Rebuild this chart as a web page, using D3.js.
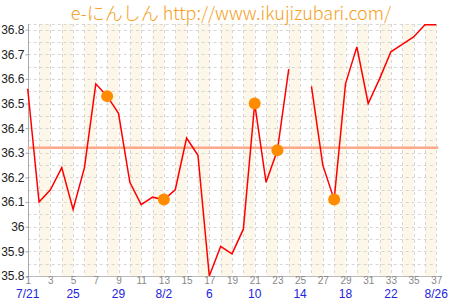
<!DOCTYPE html>
<html>
<head>
<meta charset="utf-8">
<script src="https://cdn.jsdelivr.net/npm/d3@7"></script>
<style>
  body { margin: 0; background: #fff; }
  svg { display: block; }
</style>
</head>
<body>
<svg id="chart" width="450" height="300"></svg>
<script>
// body temperature per day (day 25 missing)
var days = d3.range(1, 38);
var temps = [36.56, 36.10, 36.15, 36.24, 36.07, 36.24, 36.58, 36.53, 36.46, 36.18,
             36.09, 36.12, 36.11, 36.15, 36.36, 36.29, 35.80, 35.92, 35.89, 35.99,
             36.50, 36.18, 36.31, 36.64, null, 36.57, 36.25, 36.11, 36.58, 36.73,
             36.50, 36.60, 36.71, 36.74, 36.77, 36.82, 36.82];
var markDays = [8, 13, 21, 23, 28];
var avgTemp = 36.32;
var yTicks = [35.8, 35.9, 36, 36.1, 36.2, 36.3, 36.4, 36.5, 36.6, 36.7, 36.8];
var dayTicks = d3.range(1, 38, 2);
var dateDays = [1, 5, 9, 13, 17, 21, 25, 29, 33, 37];
var dateLabels = ["7/21", "25", "29", "8/2", "6", "10", "14", "18", "22", "8/26"];
var title = "e-にんしん http://www.ikujizubari.com/";

var svg = d3.select("#chart");

var x = d3.scaleLinear().domain([1, 37]).range([27.7, 436.3]);
var y = d3.scaleLinear().domain([35.8, 36.8]).range([276, 29.6]);
var plotTop = 24, plotBottom = y(35.8);

// alternating shaded bands
svg.append("g").selectAll("rect")
    .data(d3.range(2, 37, 2))
    .enter().append("rect")
    .attr("x", function(d) { return x(d); })
    .attr("y", plotTop)
    .attr("width", x(2) - x(1))
    .attr("height", plotBottom - plotTop)
    .attr("fill", "#fdf7ea");

// grid
var grid = svg.append("g")
    .attr("stroke", "#d6d6d6")
    .attr("stroke-dasharray", "3,3")
    .attr("stroke-width", 1);

grid.selectAll(".h")
    .data(d3.range(0, 20).map(function(i) { return 35.85 + i * 0.05; }))
    .enter().append("line")
    .attr("x1", x(1)).attr("x2", x(37))
    .attr("y1", function(d) { return Math.round(y(d)) + 0.5; })
    .attr("y2", function(d) { return Math.round(y(d)) + 0.5; });

grid.append("line")
    .attr("x1", x(1)).attr("x2", x(37))
    .attr("y1", plotTop + 0.5).attr("y2", plotTop + 0.5);

grid.selectAll(".v")
    .data(days.slice(1))
    .enter().append("line")
    .attr("y1", plotTop).attr("y2", plotBottom)
    .attr("x1", function(d) { return Math.round(x(d)) + 0.5; })
    .attr("x2", function(d) { return Math.round(x(d)) + 0.5; });

// y axis
var yAxis = svg.append("g")
    .attr("transform", "translate(" + (Math.round(x(1)) + 0.5) + ",0)")
    .call(d3.axisLeft(y).tickValues(yTicks).tickSize(3).tickPadding(1)
        .tickFormat(function(d) { return String(+d.toFixed(1)); }));
yAxis.select(".domain").attr("d", "M0," + plotTop + "V" + plotBottom).attr("stroke", "#aaa");
yAxis.selectAll(".tick line").attr("stroke", "#aaa");
yAxis.selectAll("text")
    .attr("font-family", "Liberation Sans, Arial, sans-serif")
    .attr("font-size", 12)
    .attr("fill", "#222");

// x axis day numbers
var xAxis = svg.append("g")
    .attr("transform", "translate(0," + plotBottom + ")")
    .call(d3.axisBottom(x).tickValues(dayTicks).tickSize(0).tickPadding(1));
xAxis.select(".domain").attr("stroke", "#bbb");
xAxis.selectAll("text")
    .attr("font-family", "Liberation Sans, Arial, sans-serif")
    .attr("font-size", 10)
    .attr("fill", "#888");

// date labels
svg.append("g").selectAll("text")
    .data(dateDays)
    .enter().append("text")
    .attr("x", function(d) { return x(d); })
    .attr("y", 298)
    .attr("text-anchor", "middle")
    .attr("font-family", "Liberation Sans, Arial, sans-serif")
    .attr("font-size", 12)
    .attr("fill", "#2323e0")
    .text(function(d, i) { return dateLabels[i]; });

// average line
svg.append("line")
    .attr("x1", x(1)).attr("x2", x(37) + 2)
    .attr("y1", y(avgTemp)).attr("y2", y(avgTemp))
    .attr("stroke", "#ffa98c")
    .attr("stroke-width", 2.5);

// temperature line
var line = d3.line()
    .defined(function(d) { return d != null; })
    .x(function(d, i) { return x(days[i]); })
    .y(function(d) { return y(d); });

svg.append("path")
    .datum(temps)
    .attr("fill", "none")
    .attr("stroke", "#ff0000")
    .attr("stroke-width", 1.5)
    .attr("d", line);

// marked days
svg.append("g").selectAll("circle")
    .data(markDays)
    .enter().append("circle")
    .attr("cx", function(d) { return x(d); })
    .attr("cy", function(d) { return y(temps[d - 1]); })
    .attr("r", 6)
    .attr("fill", "#ff8c00");

// title
svg.append("text")
    .attr("x", 231)
    .attr("y", 20)
    .attr("text-anchor", "middle")
    .attr("font-family", "Noto Sans CJK JP, sans-serif")
    .attr("font-size", 18)
    .attr("font-weight", 300)
    .attr("fill", "#f5a023")
    .text(title);
</script>
</body>
</html>
